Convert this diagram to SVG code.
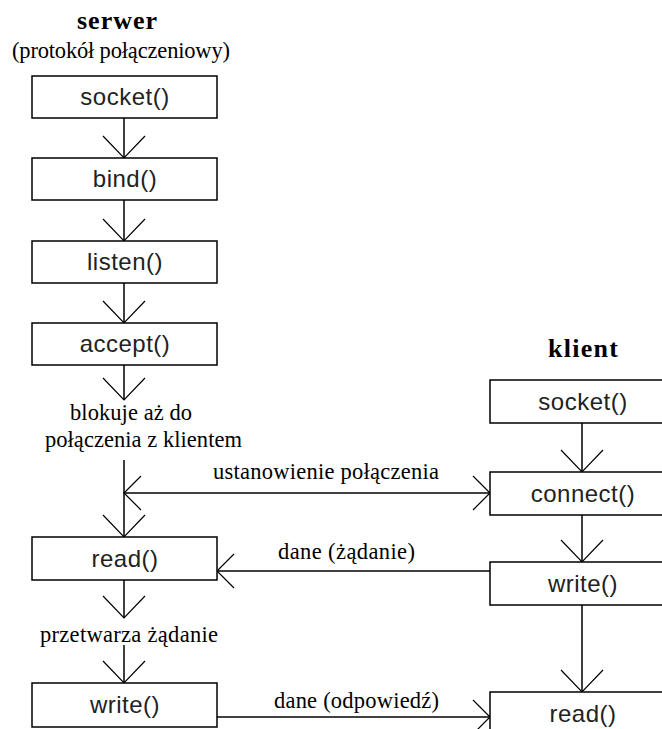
<svg xmlns="http://www.w3.org/2000/svg" width="662" height="729" viewBox="0 0 662 729">
<style>
.box{fill:#fff;stroke:#000;stroke-width:1.5}
.lbl{font-family:"Liberation Sans",Arial,sans-serif;font-size:24px;fill:#222;text-anchor:middle;letter-spacing:0.5px}
.ser{font-family:"Liberation Serif","Times New Roman",serif;font-size:22.5px;fill:#000}
.hd{font-family:"Liberation Serif","Times New Roman",serif;font-size:26px;font-weight:bold;fill:#000}
.ln{stroke:#000;stroke-width:1.5;fill:none}
.big{marker-end:url(#ab)}
.sm{marker-end:url(#as)}
</style>
<defs>
<marker id="ab" markerUnits="userSpaceOnUse" viewBox="-25 -25 50 50" markerWidth="50" markerHeight="50" refX="0" refY="0" orient="auto" overflow="visible">
<path d="M-22,-21 L0,0 L-22,21" fill="none" stroke="#000" stroke-width="1.2"/>
</marker>
<marker id="as" markerUnits="userSpaceOnUse" viewBox="-25 -25 50 50" markerWidth="50" markerHeight="50" refX="0" refY="0" orient="auto-start-reverse" overflow="visible">
<path d="M-17,-17 L0,0 L-17,17" fill="none" stroke="#000" stroke-width="1.2"/>
</marker>
</defs>
<rect width="662" height="729" fill="#fff"/>
<g id="titles">
<text class="hd" x="77" y="29" textLength="80" lengthAdjust="spacing">serwer</text>
<text class="ser" x="12" y="58" textLength="218" lengthAdjust="spacing">(protokół połączeniowy)</text>
<text class="hd" x="548" y="357" textLength="70" lengthAdjust="spacing">klient</text>
</g>
<g id="connectors">
<line class="ln big" x1="124" y1="118" x2="124" y2="158"/>
<line class="ln big" x1="124" y1="200" x2="124" y2="241"/>
<line class="ln big" x1="124" y1="283" x2="124" y2="323"/>
<line class="ln big" x1="124" y1="365" x2="124" y2="400"/>
<line class="ln big" x1="124" y1="460" x2="124" y2="537"/>
<line class="ln" x1="124" y1="493" x2="490" y2="493" marker-start="url(#as)" marker-end="url(#as)"/>
<line class="ln sm" x1="490" y1="571" x2="217" y2="571"/>
<line class="ln big" x1="124" y1="580" x2="124" y2="618"/>
<line class="ln big" x1="124" y1="645" x2="124" y2="683"/>
<line class="ln sm" x1="217" y1="717" x2="490" y2="717"/>
<line class="ln big" x1="582" y1="423" x2="582" y2="472"/>
<line class="ln big" x1="582" y1="515" x2="582" y2="562"/>
<line class="ln big" x1="582" y1="605" x2="582" y2="692"/>
</g>
<g id="notes">
<text class="ser" x="70" y="420" textLength="122" lengthAdjust="spacing">blokuje aż do</text>
<text class="ser" x="45" y="447" textLength="197" lengthAdjust="spacing">połączenia z klientem</text>
<text class="ser" x="213" y="479" textLength="226" lengthAdjust="spacing">ustanowienie połączenia</text>
<text class="ser" x="278" y="559" textLength="137" lengthAdjust="spacing">dane (żądanie)</text>
<text class="ser" x="40" y="642" textLength="178" lengthAdjust="spacing">przetwarza żądanie</text>
<text class="ser" x="274" y="708" textLength="165" lengthAdjust="spacing">dane (odpowiedź)</text>
</g>
<g id="s_socket"><rect class="box" x="32" y="76" width="185" height="42"/><text class="lbl" x="125" y="105">socket()</text></g>
<g id="s_bind"><rect class="box" x="32" y="158" width="185" height="42"/><text class="lbl" x="125" y="187">bind()</text></g>
<g id="s_listen"><rect class="box" x="32" y="241" width="185" height="42"/><text class="lbl" x="125" y="270">listen()</text></g>
<g id="s_accept"><rect class="box" x="32" y="323" width="185" height="42"/><text class="lbl" x="125" y="352">accept()</text></g>
<g id="s_read"><rect class="box" x="32" y="537" width="185" height="43"/><text class="lbl" x="125" y="567">read()</text></g>
<g id="s_write"><rect class="box" x="32" y="683" width="185" height="44"/><text class="lbl" x="125" y="713">write()</text></g>
<g id="c_socket"><rect class="box" x="490" y="380" width="185" height="43"/><text class="lbl" x="583" y="410">socket()</text></g>
<g id="c_connect"><rect class="box" x="490" y="472" width="185" height="43"/><text class="lbl" x="583" y="502">connect()</text></g>
<g id="c_write"><rect class="box" x="490" y="562" width="185" height="43"/><text class="lbl" x="583" y="592">write()</text></g>
<g id="c_read"><rect class="box" x="490" y="692" width="185" height="44"/><text class="lbl" x="583" y="722">read()</text></g>
</svg>
